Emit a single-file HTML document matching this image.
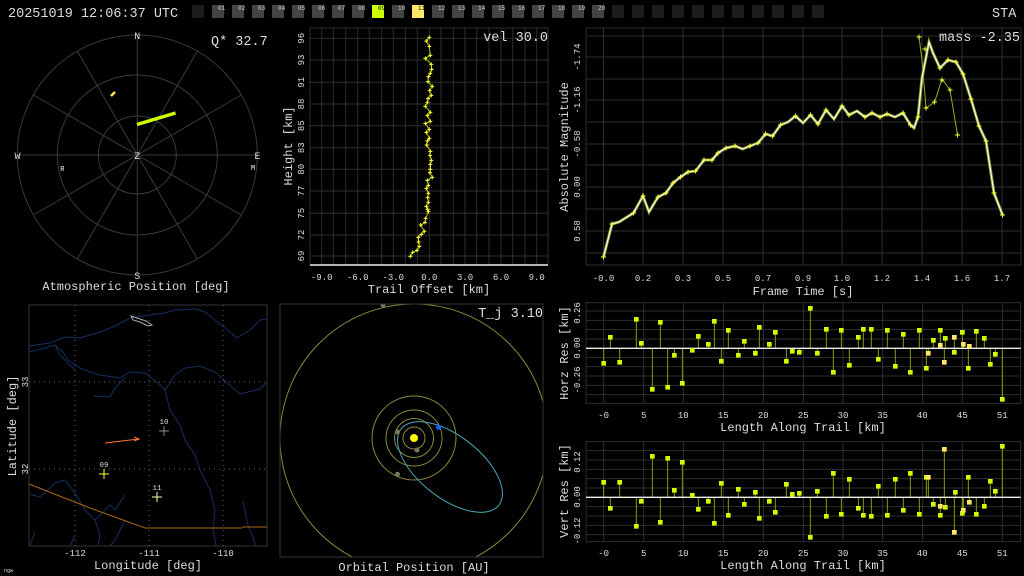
<!DOCTYPE html>
<html><head><meta charset="utf-8"><style>
html,body{margin:0;padding:0;background:#000;}
svg{display:block;}
text{font-family:"Liberation Mono","DejaVu Sans Mono",monospace;fill:#ddd;}
</style></head><body>
<svg width="1024" height="576" viewBox="0 0 1024 576" xmlns="http://www.w3.org/2000/svg">
<rect width="1024" height="576" fill="#000"/>
<!-- header -->
<text x="8" y="17" font-size="13.5" fill="#e0e0e0">20251019 12:06:37 UTC</text>
<text x="992" y="17" font-size="13.5" fill="#e0e0e0">STA</text>
<g id="boxes">
<rect x="192" y="5" width="12" height="13" fill="#1c1c1c"/>
<rect x="212" y="5" width="12" height="13" fill="#444"/><rect x="232" y="5" width="12" height="13" fill="#444"/>
<rect x="252" y="5" width="12" height="13" fill="#444"/><rect x="272" y="5" width="12" height="13" fill="#444"/>
<rect x="292" y="5" width="12" height="13" fill="#444"/><rect x="312" y="5" width="12" height="13" fill="#444"/>
<rect x="332" y="5" width="12" height="13" fill="#444"/><rect x="352" y="5" width="12" height="13" fill="#444"/>
<rect x="372" y="5" width="12" height="13" fill="#ccff00"/><rect x="392" y="5" width="12" height="13" fill="#444"/>
<rect x="412" y="5" width="12" height="13" fill="#ffe866"/><rect x="432" y="5" width="12" height="13" fill="#444"/>
<rect x="452" y="5" width="12" height="13" fill="#444"/><rect x="472" y="5" width="12" height="13" fill="#444"/>
<rect x="492" y="5" width="12" height="13" fill="#444"/><rect x="512" y="5" width="12" height="13" fill="#444"/>
<rect x="532" y="5" width="12" height="13" fill="#444"/><rect x="552" y="5" width="12" height="13" fill="#444"/>
<rect x="572" y="5" width="12" height="13" fill="#444"/><rect x="592" y="5" width="12" height="13" fill="#444"/>
<rect x="612" y="5" width="12" height="13" fill="#1c1c1c"/><rect x="632" y="5" width="12" height="13" fill="#1c1c1c"/>
<rect x="652" y="5" width="12" height="13" fill="#1c1c1c"/><rect x="672" y="5" width="12" height="13" fill="#1c1c1c"/>
<rect x="692" y="5" width="12" height="13" fill="#1c1c1c"/><rect x="712" y="5" width="12" height="13" fill="#1c1c1c"/>
<rect x="732" y="5" width="12" height="13" fill="#1c1c1c"/><rect x="752" y="5" width="12" height="13" fill="#1c1c1c"/>
<rect x="772" y="5" width="12" height="13" fill="#1c1c1c"/><rect x="792" y="5" width="12" height="13" fill="#1c1c1c"/>
<rect x="812" y="5" width="12" height="13" fill="#1c1c1c"/>
</g>
<g font-size="6" fill="#ccc">
<text x="218" y="10" style="fill:#ccc">01</text><text x="238" y="10" style="fill:#ccc">02</text><text x="258" y="10" style="fill:#ccc">03</text><text x="278" y="10" style="fill:#ccc">04</text><text x="298" y="10" style="fill:#ccc">05</text><text x="318" y="10" style="fill:#ccc">06</text><text x="338" y="10" style="fill:#ccc">07</text><text x="358" y="10" style="fill:#ccc">08</text><text x="378" y="10" style="fill:#111">09</text><text x="398" y="10" style="fill:#ccc">10</text><text x="418" y="10" style="fill:#111">11</text><text x="438" y="10" style="fill:#ccc">12</text><text x="458" y="10" style="fill:#ccc">13</text><text x="478" y="10" style="fill:#ccc">14</text><text x="498" y="10" style="fill:#ccc">15</text><text x="518" y="10" style="fill:#ccc">16</text><text x="538" y="10" style="fill:#ccc">17</text><text x="558" y="10" style="fill:#ccc">18</text><text x="578" y="10" style="fill:#ccc">19</text><text x="598" y="10" style="fill:#ccc">20</text>
</g>

<!-- polar -->
<g stroke="#3a3a3a" stroke-width="1" fill="none">
<circle cx="137.3" cy="155" r="120"/><circle cx="137.3" cy="155" r="80"/><circle cx="137.3" cy="155" r="39"/>
<line x1="137.3" y1="35" x2="137.3" y2="275"/><line x1="17.3" y1="155" x2="257.3" y2="155"/>
<line x1="77.3" y1="51.1" x2="197.3" y2="258.9"/><line x1="197.3" y1="51.1" x2="77.3" y2="258.9"/>
<line x1="33.4" y1="95" x2="241.2" y2="215"/><line x1="241.2" y1="95" x2="33.4" y2="215"/>
</g>
<g font-size="10" fill="#ddd" text-anchor="middle">
<text x="137.3" y="39">N</text><text x="137.3" y="279">S</text><text x="17.5" y="159">W</text><text x="257.5" y="159">E</text><text x="137.3" y="159">Z</text>
<text x="62.3" y="171" font-size="7" style="fill:#fff">R</text><text x="253" y="170" font-size="7" style="fill:#fff">M</text>
</g>
<line x1="137" y1="124.5" x2="175.5" y2="113" stroke="#ccff00" stroke-width="3.5"/>
<line x1="111" y1="96" x2="115" y2="92" stroke="#ffee55" stroke-width="2.5"/>
<text x="211" y="45" font-size="13.5" fill="#ddd">Q* 32.7</text>
<text x="136" y="290" font-size="12" text-anchor="middle" fill="#e6e6e6">Atmospheric Position [deg]</text>

<!-- height plot -->
<g stroke="#2e2e2e" stroke-width="1">
<line x1="321.7" y1="28" x2="321.7" y2="265"/><line x1="333.3" y1="28" x2="333.3" y2="265"/><line x1="345.7" y1="28" x2="345.7" y2="265"/><line x1="357.7" y1="28" x2="357.7" y2="265"/><line x1="369.3" y1="28" x2="369.3" y2="265"/><line x1="381.7" y1="28" x2="381.7" y2="265"/><line x1="393.3" y1="28" x2="393.3" y2="265"/><line x1="405.3" y1="28" x2="405.3" y2="265"/><line x1="417.3" y1="28" x2="417.3" y2="265"/><line x1="429.3" y1="28" x2="429.3" y2="265"/><line x1="441" y1="28" x2="441" y2="265"/><line x1="453.3" y1="28" x2="453.3" y2="265"/><line x1="465" y1="28" x2="465" y2="265"/><line x1="476.7" y1="28" x2="476.7" y2="265"/><line x1="489" y1="28" x2="489" y2="265"/><line x1="501" y1="28" x2="501" y2="265"/><line x1="512.7" y1="28" x2="512.7" y2="265"/><line x1="525" y1="28" x2="525" y2="265"/><line x1="536.7" y1="28" x2="536.7" y2="265"/><line x1="548" y1="28" x2="548" y2="265"/>
<line x1="310" y1="28" x2="548" y2="28"/><line x1="310" y1="28" x2="310" y2="265"/>
<line x1="310" y1="38.3" x2="548" y2="38.3"/><line x1="310" y1="60" x2="548" y2="60"/><line x1="310" y1="82.3" x2="548" y2="82.3"/><line x1="310" y1="104" x2="548" y2="104"/><line x1="310" y1="125.7" x2="548" y2="125.7"/><line x1="310" y1="147.7" x2="548" y2="147.7"/><line x1="310" y1="169.3" x2="548" y2="169.3"/><line x1="310" y1="191" x2="548" y2="191"/><line x1="310" y1="213.3" x2="548" y2="213.3"/><line x1="310" y1="235" x2="548" y2="235"/><line x1="310" y1="256" x2="548" y2="256"/>
</g>
<line x1="310" y1="265" x2="548" y2="265" stroke="#eee" stroke-width="1.5"/>
<g font-size="9" fill="#bbb" text-anchor="middle">
<text x="321.7" y="280">-9.0</text><text x="357.7" y="280">-6.0</text><text x="393.3" y="280">-3.0</text><text x="429.3" y="280">0.0</text><text x="465" y="280">3.0</text><text x="501" y="280">6.0</text><text x="536.7" y="280">9.0</text>
</g>
<g font-size="9" fill="#bbb" text-anchor="middle">
<text transform="translate(304,38.3) rotate(-90)">96</text><text transform="translate(304,60) rotate(-90)">93</text><text transform="translate(304,82.3) rotate(-90)">91</text><text transform="translate(304,104) rotate(-90)">88</text><text transform="translate(304,125.7) rotate(-90)">85</text><text transform="translate(304,147.7) rotate(-90)">83</text><text transform="translate(304,169.3) rotate(-90)">80</text><text transform="translate(304,191) rotate(-90)">77</text><text transform="translate(304,213.3) rotate(-90)">75</text><text transform="translate(304,235) rotate(-90)">72</text><text transform="translate(304,256) rotate(-90)">69</text>
</g>
<text transform="translate(292,146) rotate(-90)" font-size="12" text-anchor="middle" fill="#e6e6e6">Height [km]</text>
<text x="429" y="293" font-size="12" text-anchor="middle" fill="#e6e6e6">Trail Offset [km]</text>
<text x="548" y="41" font-size="13.5" text-anchor="end" fill="#ddd">vel 30.0</text>
<g transform="translate(300,25) scale(0.33333)">
<polyline fill="none" stroke="#aacc00" stroke-width="3" points="388,37 379,48 388,64 391,91 376,100 394,118 395,133 391,145 385,155 384,170 397,184 389,197 394,211 384,221 382,232 376,244 391,262 382,271 391,289 376,295 388,313 379,322 388,340 382,348 380,360 391,379 390,391 394,406 391,418 391,433 390,443 397,457 382,466 385,481 379,490 385,505 383,518 385,532 379,544 383,553 385,560 377,580 375,592 362,600 373,619 364,628 355,637 356,651 358,664 351,676 338,682 331,694"/>
<path stroke="#ffff33" stroke-width="3" fill="none" d="M382,37h12M388,31v12M373,48h12M379,42v12M382,64h12M388,58v12M385,91h12M391,85v12M370,100h12M376,94v12M388,118h12M394,112v12M389,133h12M395,127v12M385,145h12M391,139v12M379,155h12M385,149v12M378,170h12M384,164v12M391,184h12M397,178v12M383,197h12M389,191v12M388,211h12M394,205v12M378,221h12M384,215v12M376,232h12M382,226v12M370,244h12M376,238v12M385,262h12M391,256v12M376,271h12M382,265v12M385,289h12M391,283v12M370,295h12M376,289v12M382,313h12M388,307v12M373,322h12M379,316v12M382,340h12M388,334v12M376,348h12M382,342v12M374,360h12M380,354v12M385,379h12M391,373v12M384,391h12M390,385v12M388,406h12M394,400v12M385,418h12M391,412v12M385,433h12M391,427v12M384,443h12M390,437v12M391,457h12M397,451v12M376,466h12M382,460v12M379,481h12M385,475v12M373,490h12M379,484v12M379,505h12M385,499v12M377,518h12M383,512v12M379,532h12M385,526v12M373,544h12M379,538v12M377,553h12M383,547v12M379,560h12M385,554v12M371,580h12M377,574v12M369,592h12M375,586v12M356,600h12M362,594v12M367,619h12M373,613v12M358,628h12M364,622v12M349,637h12M355,631v12M350,651h12M356,645v12M352,664h12M358,658v12M345,676h12M351,670v12M332,682h12M338,676v12M325,694h12M331,688v12"/>
</g>

<!-- magnitude plot -->
<g stroke="#2e2e2e" stroke-width="1">
<rect x="586" y="28" width="435" height="237" fill="none"/>
<line x1="586" y1="36" x2="1021" y2="36"/><line x1="586" y1="57" x2="1021" y2="57"/><line x1="586" y1="79" x2="1021" y2="79"/><line x1="586" y1="100" x2="1021" y2="100"/><line x1="586" y1="122" x2="1021" y2="122"/><line x1="586" y1="144" x2="1021" y2="144"/><line x1="586" y1="165" x2="1021" y2="165"/><line x1="586" y1="187" x2="1021" y2="187"/><line x1="586" y1="209" x2="1021" y2="209"/><line x1="586" y1="231" x2="1021" y2="231"/><line x1="586" y1="253" x2="1021" y2="253"/>
<line x1="603.5" y1="28" x2="603.5" y2="265"/><line x1="643" y1="28" x2="643" y2="265"/><line x1="683" y1="28" x2="683" y2="265"/><line x1="723" y1="28" x2="723" y2="265"/><line x1="763" y1="28" x2="763" y2="265"/><line x1="803" y1="28" x2="803" y2="265"/><line x1="842" y1="28" x2="842" y2="265"/><line x1="882" y1="28" x2="882" y2="265"/><line x1="922" y1="28" x2="922" y2="265"/><line x1="962" y1="28" x2="962" y2="265"/><line x1="1002" y1="28" x2="1002" y2="265"/>
</g>
<g font-size="9" fill="#bbb" text-anchor="middle">
<text x="603.5" y="281">-0.0</text><text x="643" y="281">0.2</text><text x="683" y="281">0.3</text><text x="723" y="281">0.5</text><text x="763" y="281">0.7</text><text x="803" y="281">0.9</text><text x="842" y="281">1.0</text><text x="882" y="281">1.2</text><text x="922" y="281">1.4</text><text x="962" y="281">1.6</text><text x="1002" y="281">1.7</text>
<text transform="translate(580,57) rotate(-90)">-1.74</text><text transform="translate(580,100) rotate(-90)">-1.16</text><text transform="translate(580,144) rotate(-90)">-0.58</text><text transform="translate(580,187) rotate(-90)">0.00</text><text transform="translate(580,231) rotate(-90)">0.58</text>
</g>
<text transform="translate(568,147) rotate(-90)" font-size="12" text-anchor="middle" fill="#e6e6e6">Absolute Magnitude</text>
<text x="803" y="295" font-size="12" text-anchor="middle" fill="#e6e6e6">Frame Time [s]</text>
<text x="1020" y="41" font-size="13.5" text-anchor="end" fill="#ddd">mass -2.35</text>
<polyline fill="none" stroke="#99aa22" stroke-width="1" points="919,37 922,60 926,108 934.6,102 942,79 950,90 957.5,135"/>
<polyline fill="none" stroke="#889922" stroke-width="3" points="603.5,257 612,224 619,222 633.5,213 643,196 649,212 658,197 666,193 673,183 680.5,177 688,172 695.6,171 704,160 712,160 718,153 726,148 735,146 742.6,149 750,146 758,143 765.5,134 772.6,136 780.5,125 788,122 795.5,116 803,123 810.5,115 818,124 826,110 834,119 842,106 849,115 857,111 865,117 872,113 880,117 887,114 895,117 903,113 910.5,125 914,128 918,117 922,78 929,42 933,53 940,68 948,60 956,62 963,74 971,99 979,126 986,141 994,193 1002.6,215"/>
<polyline fill="none" stroke="#ffffff" stroke-width="1.2" points="603.5,257 612,224 619,222 633.5,213 643,196 649,212 658,197 666,193 673,183 680.5,177 688,172 695.6,171 704,160 712,160 718,153 726,148 735,146 742.6,149 750,146 758,143 765.5,134 772.6,136 780.5,125 788,122 795.5,116 803,123 810.5,115 818,124 826,110 834,119 842,106 849,115 857,111 865,117 872,113 880,117 887,114 895,117 903,113 910.5,125 914,128 918,117 922,78 929,42 933,53 940,68 948,60 956,62 963,74 971,99 979,126 986,141 994,193 1002.6,215"/>
<g stroke="#ffff33" stroke-width="1" fill="none">
<path d="M601,257h5M603.5,254.5v5M609.5,224h5M612,221.5v5M631,213h5M633.5,210.5v5M640.5,196h5M643,193.5v5M655.5,197h5M658,194.5v5M663.5,193h5M666,190.5v5M670.5,183h5M673,180.5v5M678,177h5M680.5,174.5v5M685.5,172h5M688,169.5v5M693,171h5M695.6,168.5v5M701.5,160h5M704,157.5v5M709.5,160h5M712,157.5v5M715.5,153h5M718,150.5v5M723.5,148h5M726,145.5v5M732.5,146h5M735,143.5v5M747.5,146h5M750,143.5v5M755.5,143h5M758,140.5v5M763,134h5M765.5,131.5v5M770,136h5M772.6,133.5v5M778,125h5M780.5,122.5v5M793,116h5M795.5,113.5v5M808,115h5M810.5,112.5v5M815.5,124h5M818,121.5v5M823.5,110h5M826,107.5v5M839.5,106h5M842,103.5v5M846.5,115h5M849,112.5v5M862.5,117h5M865,114.5v5M869.5,113h5M872,110.5v5M877.5,117h5M880,114.5v5M884.5,114h5M887,111.5v5M900.5,113h5M903,110.5v5M908,125h5M910.5,122.5v5M915.5,117h5M918,114.5v5M922.5,49h5M925,46.5v5M937.5,68h5M940,65.5v5M945.5,60h5M948,57.5v5M953.5,62h5M956,59.5v5M960.5,74h5M963,71.5v5M968.5,99h5M971,96.5v5M976.5,126h5M979,123.5v5M983.5,141h5M986,138.5v5M991.5,193h5M994,190.5v5M1000,215h5M1002.6,212.5v5"/>
<path d="M916.5,37h5M919,34.5v5M923.5,108h5M926,105.5v5M932,102h5M934.6,99.5v5M939.5,80h5M942,77.5v5M947.5,90h5M950,87.5v5M955,135h5M957.5,132.5v5"/>
</g>

<!-- map -->
<rect x="29" y="305" width="238" height="241" fill="none" stroke="#333"/>
<g stroke="#666" stroke-width="1" stroke-dasharray="1,4">
<line x1="29" y1="382" x2="267" y2="382"/><line x1="29" y1="469" x2="267" y2="469"/>
<line x1="75" y1="305" x2="75" y2="546"/><line x1="149" y1="305" x2="149" y2="546"/><line x1="223" y1="305" x2="223" y2="546"/>
</g>
<g fill="none" stroke="#13305e" stroke-width="1">
<polyline points="29,346 50,343 65,337 80,338 100,332 115,326 130,318 150,315 165,313 175,310 195,309 205,312 215,320 225,328 237,338 250,330 260,320 267,319"/>
<polyline points="29,352 45,348 55,345 63,352 68,360 80,368 90,372 100,375 120,378 130,372 145,373 158,383 165,390 175,375 185,368 200,366 215,372 225,381 240,394 248,392 260,389 267,382"/>
<polyline points="93,396 110,397 115,388 125,378"/>
<polyline points="55,345 60,355 70,365 75,370"/>
<polyline points="165,390 170,410 180,425 185,440 195,455 200,470 210,490 215,510 213,530 216,546"/>
<polyline points="29,494 40,497 55,483 65,480 75,493 85,510 95,520 100,535 98,546"/>
<polyline points="95,520 110,505 115,510 125,495"/>
<polyline points="125,521 115,540 110,546"/>
<polyline points="75,535 70,546"/>
<polyline points="243,501 248,525 256,546"/>
<polyline points="30,545 35,532"/>
</g>
<polyline fill="none" stroke="#aa6618" stroke-width="1" points="29,484 90,508 145,528 242,528"/>
<line x1="242" y1="527" x2="267" y2="527" stroke="#aa6618" stroke-width="1"/>
<path d="M131,316 L137,318 L146,321 L152,325 L148,326 L140,322 L133,320 Z" fill="none" stroke="#aaa" stroke-width="1"/>
<polyline fill="none" stroke="#ff7733" stroke-width="1" points="105,443 139,439"/>
<path d="M134,437 L139,439 L134,441" fill="none" stroke="#ff7733" stroke-width="1"/>
<path d="M99,474h10M104,469v10" stroke="#ffff33" stroke-width="1"/>
<path d="M159,431h10M164,426v10" stroke="#888" stroke-width="1"/>
<path d="M152,497h10M157,492v10" stroke="#ffffaa" stroke-width="1"/>
<g font-size="7.5" text-anchor="middle" fill="#aaa"><text x="104" y="467">09</text><text x="164" y="424">10</text><text x="157" y="490">11</text></g>
<g font-size="9" fill="#bbb" text-anchor="middle">
<text x="75" y="556">-112</text><text x="149" y="556">-111</text><text x="223" y="556">-110</text>
<text transform="translate(28,382) rotate(-90)">33</text><text transform="translate(28,469) rotate(-90)">32</text>
</g>
<text transform="translate(16,426) rotate(-90)" font-size="12" text-anchor="middle" fill="#e6e6e6">Latitude [deg]</text>
<text x="148" y="569" font-size="12" text-anchor="middle" fill="#e6e6e6">Longitude [deg]</text>

<!-- orbit -->
<svg x="280" y="304" width="263" height="253" viewBox="280 304 263 253">
<rect x="280" y="304" width="263" height="253" fill="#000"/>
<g fill="none" stroke="#8a8a3a" stroke-width="1">
<circle cx="414" cy="438" r="134"/><circle cx="414" cy="438" r="42"/><circle cx="414" cy="438" r="28"/><circle cx="414" cy="438" r="19.5"/><circle cx="414" cy="438" r="11"/>
</g>
<ellipse cx="450" cy="467" rx="62" ry="31" transform="rotate(38 450 467)" fill="none" stroke="#4aa7b8" stroke-width="1"/>
<circle cx="414" cy="438" r="4" fill="#ffff00"/>
<circle cx="397.5" cy="432" r="2.5" fill="#777760"/><circle cx="417" cy="450" r="2.5" fill="#777760"/><circle cx="397.5" cy="474.3" r="2.5" fill="#777760"/><circle cx="383" cy="305" r="2.5" fill="#777760"/>
<circle cx="438.6" cy="427.3" r="2.5" fill="#1a66ff"/>
</svg>
<rect x="280" y="304" width="263" height="253" fill="none" stroke="#333"/>
<text x="543" y="317" font-size="13.5" text-anchor="end" fill="#ddd">T_j 3.10</text>
<text x="414" y="571" font-size="12" text-anchor="middle" fill="#e6e6e6">Orbital Position [AU]</text>

<!-- residual plots in zoom coords -->
<g transform="translate(555,295) scale(0.33333)">
<g stroke="#2e2e2e" stroke-width="3" fill="none">
<rect x="93" y="23" width="1304" height="302"/>
<rect x="93" y="440" width="1304" height="300"/>
<path d="M146,23V325M266,23V325M385,23V325M505,23V325M625,23V325M745,23V325M864,23V325M983,23V325M1103,23V325M1222,23V325M1342,23V325"/>
<path d="M93,48H1397M93,76H1397M93,104H1397M93,132H1397M93,188H1397M93,215H1397M93,243H1397M93,271H1397M93,299H1397"/>
<path d="M146,440V740M266,440V740M385,440V740M505,440V740M625,440V740M745,440V740M864,440V740M983,440V740M1103,440V740M1222,440V740M1342,440V740"/>
<path d="M93,467H1397M93,495H1397M93,523H1397M93,551H1397M93,579H1397M93,635H1397M93,663H1397M93,691H1397M93,719H1397"/>
</g>
<g stroke="#8a9a00" stroke-width="3">
<path d="M146,160V205M166,160V127M194,160V202M244,160V73M259,160V145M292,160V283M316,160V82M338,160V277M358,160V181M382,160V265M412,160V166M430,160V124M460,160V148M478,160V79M499,160V199M520,160V106M550,160V181M568,160V139M601,160V175M613,160V97M643,160V148M661,160V112M694,160V199M712,160V169M733,160V172M766,160V40M787,160V175M814,160V103M835,160V232M859,160V106M883,160V211M910,160V127M925,160V103M949,160V103M970,160V193M997,160V106M1021,160V214M1045,160V118M1066,160V232M1093,160V106M1114,160V220M1135,160V136M1156,160V106M1171,160V130M1198,160V172M1222,160V112M1240,160V220M1264,160V109M1288,160V130M1306,160V208M1321,160V178M1342,160V313M1120,160V175M1156,160V151M1168,160V202M1198,160V127M1225,160V148M1243,160V154"/>
<path d="M146,607V562M166,607V640M194,607V562M244,607V694M259,607V619M292,607V484M316,607V682M338,607V490M358,607V586M382,607V502M412,607V601M430,607V643M460,607V619M478,607V685M499,607V565M520,607V661M550,607V583M568,607V628M601,607V592M613,607V670M643,607V619M661,607V652M694,607V568M712,607V598M733,607V595M766,607V727M787,607V589M814,607V664M835,607V535M859,607V658M883,607V553M910,607V640M925,607V661M949,607V664M970,607V574M997,607V661M1021,607V553M1045,607V646M1066,607V535M1093,607V658M1114,607V547M1135,607V628M1156,607V661M1171,607V637M1201,607V592M1222,607V655M1240,607V547M1264,607V658M1288,607V634M1306,607V559M1321,607V589M1342,607V454M1120,607V547M1156,607V634M1168,607V463M1198,607V712M1225,607V646M1243,607V622"/>
</g>
<line x1="93" y1="160" x2="1397" y2="160" stroke="#eee" stroke-width="4"/>
<line x1="93" y1="607" x2="1397" y2="607" stroke="#eee" stroke-width="4"/>
<g fill="#ccff00" stroke="none">
<path d="M139,198h14v14h-14zM159,120h14v14h-14zM187,195h14v14h-14zM237,66h14v14h-14zM252,138h14v14h-14zM285,276h14v14h-14zM309,75h14v14h-14zM331,270h14v14h-14zM351,174h14v14h-14zM375,258h14v14h-14zM405,159h14v14h-14zM423,117h14v14h-14zM453,141h14v14h-14zM471,72h14v14h-14zM492,192h14v14h-14zM513,99h14v14h-14zM543,174h14v14h-14zM561,132h14v14h-14zM594,168h14v14h-14zM606,90h14v14h-14zM636,141h14v14h-14zM654,105h14v14h-14zM687,192h14v14h-14zM705,162h14v14h-14zM726,165h14v14h-14zM759,33h14v14h-14zM780,168h14v14h-14zM807,96h14v14h-14zM828,225h14v14h-14zM852,99h14v14h-14zM876,204h14v14h-14zM903,120h14v14h-14zM918,96h14v14h-14zM942,96h14v14h-14zM963,186h14v14h-14zM990,99h14v14h-14zM1014,207h14v14h-14zM1038,111h14v14h-14zM1059,225h14v14h-14zM1086,99h14v14h-14zM1107,213h14v14h-14zM1128,129h14v14h-14zM1149,99h14v14h-14zM1164,123h14v14h-14zM1191,165h14v14h-14zM1215,105h14v14h-14zM1233,213h14v14h-14zM1257,102h14v14h-14zM1281,123h14v14h-14zM1299,201h14v14h-14zM1314,171h14v14h-14zM1335,306h14v14h-14z"/>
<path d="M139,555h14v14h-14zM159,633h14v14h-14zM187,555h14v14h-14zM237,687h14v14h-14zM252,612h14v14h-14zM285,477h14v14h-14zM309,675h14v14h-14zM331,483h14v14h-14zM351,579h14v14h-14zM375,495h14v14h-14zM405,594h14v14h-14zM423,636h14v14h-14zM453,612h14v14h-14zM471,678h14v14h-14zM492,558h14v14h-14zM513,654h14v14h-14zM543,576h14v14h-14zM561,621h14v14h-14zM594,585h14v14h-14zM606,663h14v14h-14zM636,612h14v14h-14zM654,645h14v14h-14zM687,561h14v14h-14zM705,591h14v14h-14zM726,588h14v14h-14zM759,720h14v14h-14zM780,582h14v14h-14zM807,657h14v14h-14zM828,528h14v14h-14zM852,651h14v14h-14zM876,546h14v14h-14zM903,633h14v14h-14zM918,654h14v14h-14zM942,657h14v14h-14zM963,567h14v14h-14zM990,654h14v14h-14zM1014,546h14v14h-14zM1038,639h14v14h-14zM1059,528h14v14h-14zM1086,651h14v14h-14zM1107,540h14v14h-14zM1128,621h14v14h-14zM1149,654h14v14h-14zM1164,630h14v14h-14zM1194,585h14v14h-14zM1215,648h14v14h-14zM1233,540h14v14h-14zM1257,651h14v14h-14zM1281,627h14v14h-14zM1299,552h14v14h-14zM1314,582h14v14h-14zM1335,447h14v14h-14z"/>
</g>
<g fill="#ffe866" stroke="none">
<path d="M1113,168h14v14h-14zM1149,144h14v14h-14zM1161,195h14v14h-14zM1191,120h14v14h-14zM1218,141h14v14h-14zM1236,147h14v14h-14z"/>
<path d="M1113,540h14v14h-14zM1149,627h14v14h-14zM1161,456h14v14h-14zM1191,705h14v14h-14zM1218,639h14v14h-14zM1236,615h14v14h-14z"/>
</g>
</g>
<g font-size="9" fill="#bbb" text-anchor="middle">
<text x="603.7" y="418">-0</text><text x="643.7" y="418">5</text><text x="683.3" y="418">10</text><text x="723.3" y="418">15</text><text x="763.3" y="418">20</text><text x="803.3" y="418">25</text><text x="843" y="418">30</text><text x="882.7" y="418">35</text><text x="922.3" y="418">40</text><text x="962.3" y="418">45</text><text x="1002.3" y="418">51</text>
<text x="603.7" y="556">-0</text><text x="643.7" y="556">5</text><text x="683.3" y="556">10</text><text x="723.3" y="556">15</text><text x="763.3" y="556">20</text><text x="803.3" y="556">25</text><text x="843" y="556">30</text><text x="882.7" y="556">35</text><text x="922.3" y="556">40</text><text x="962.3" y="556">45</text><text x="1002.3" y="556">51</text>
<text transform="translate(580,313) rotate(-90)">0.26</text><text transform="translate(580,348) rotate(-90)">0.00</text><text transform="translate(580,380) rotate(-90)">-0.26</text>
<text transform="translate(580,462) rotate(-90)">0.12</text><text transform="translate(580,497) rotate(-90)">0.00</text><text transform="translate(580,531) rotate(-90)">-0.12</text>
</g>
<text transform="translate(568,353) rotate(-90)" font-size="12" text-anchor="middle" fill="#e6e6e6">Horz Res [km]</text>
<text transform="translate(568,491) rotate(-90)" font-size="12" text-anchor="middle" fill="#e6e6e6">Vert Res [km]</text>
<text x="803" y="431" font-size="12" text-anchor="middle" fill="#e6e6e6">Length Along Trail [km]</text>
<text x="803" y="569" font-size="12" text-anchor="middle" fill="#e6e6e6">Length Along Trail [km]</text>
<text x="4" y="572" font-size="5" fill="#444">ngw</text>
</svg>
</body></html>
